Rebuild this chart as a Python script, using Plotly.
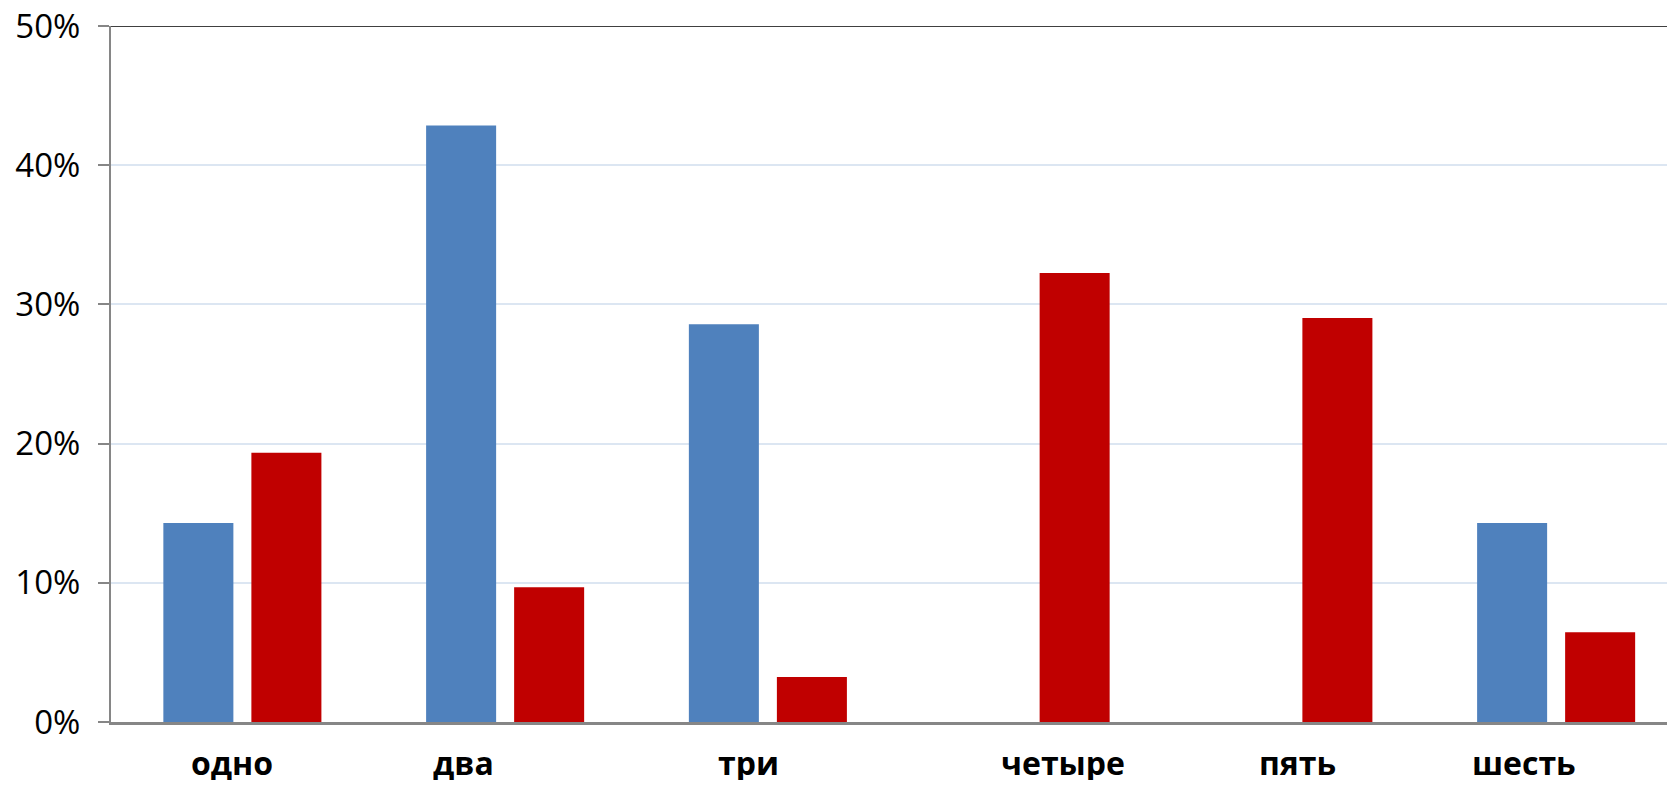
import plotly.graph_objects as go

categories = ["одно", "два", "три", "четыре", "пять", "шесть"]
series_blue = [14.29, 42.86, 28.57, 0.0, 0.0, 14.29]
series_red = [19.35, 9.68, 3.23, 32.26, 29.03, 6.45]
y_ticks = [0, 10, 20, 30, 40, 50]
y_ticklabels = ["0%", "10%", "20%", "30%", "40%", "50%"]
label_shift_px = [-10, -42, -19, 32, 4, -32]

BLUE = "#4F81BD"
RED = "#C00000"
FONT = "Open Sans"

fig = go.Figure()
fig.add_trace(go.Bar(x=categories, y=series_blue, marker=dict(color=BLUE, line=dict(width=0)), name="blue"))
fig.add_trace(go.Bar(x=categories, y=series_red, marker=dict(color=RED, line=dict(width=0)), name="red"))

for cat, shift in zip(categories, label_shift_px):
    fig.add_annotation(x=cat, xref="x", y=0, yref="paper", yanchor="middle",
                       xanchor="center", xshift=shift, yshift=-40, showarrow=False,
                       height=36, valign="middle",
                       text="<b>%s</b>" % cat, font=dict(family=FONT, size=32, color="#000000"))

fig.add_shape(type="line", xref="paper", x0=0, x1=1, yref="y", y0=50, y1=50,
              line=dict(color="#000000", width=1.5))

# page body has an 8px margin: figure is sized so the plot area lands where the reference has it
fig.update_layout(
    width=1667, height=777,
    margin=dict(l=103, r=0, t=18, b=63, autoexpand=False),
    paper_bgcolor="white", plot_bgcolor="white",
    barmode="group", bargap=0.33, bargroupgap=0.2045,
    showlegend=False,
    font=dict(family=FONT, color="#000000"),
)
fig.update_xaxes(
    type="category", range=[-0.5, 5.4524], showticklabels=False,
    showline=True, linecolor="#868686", linewidth=3, ticks="", showgrid=False,
    zeroline=False, fixedrange=True, automargin=False,
)
fig.update_yaxes(
    range=[0, 50], tickvals=y_ticks, ticktext=y_ticklabels,
    showline=True, linecolor="#868686", linewidth=2,
    ticks="outside", ticklen=11, tickcolor="#868686", tickwidth=1.5,
    showgrid=True, gridcolor="#DCE6F2", gridwidth=1.5,
    zeroline=False, tickfont=dict(family=FONT, size=33, color="#000000"),
    ticklabelstandoff=11, ticklabeloverflow="allow", fixedrange=True,
    automargin=False,
)

fig.write_html("out.html")
